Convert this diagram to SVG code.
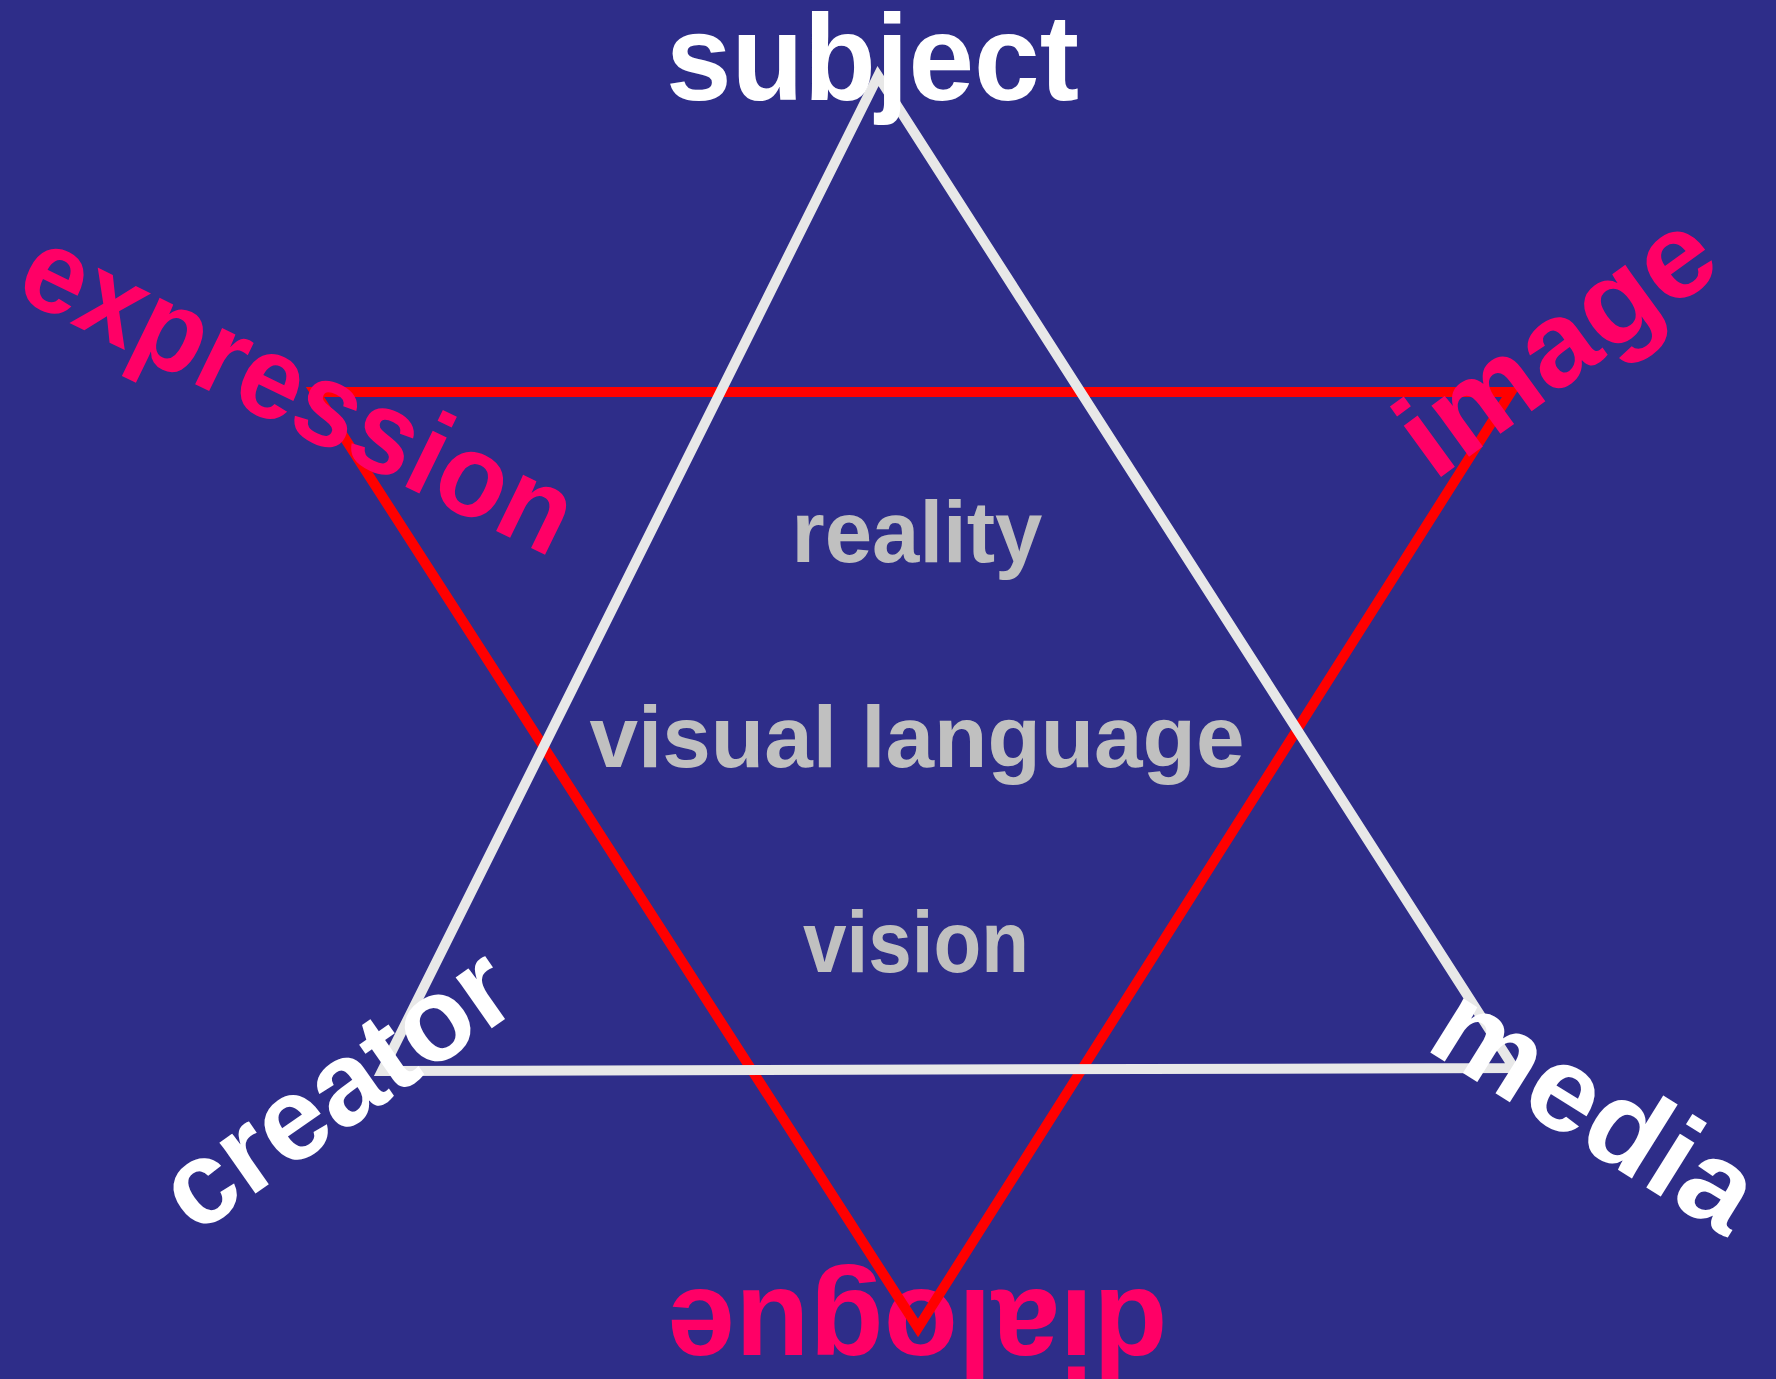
<svg xmlns="http://www.w3.org/2000/svg" width="1776" height="1379" viewBox="0 0 1776 1379">
<style>
.lbl{font-family:"Liberation Sans",Arial,sans-serif;font-weight:bold}
.w{fill:#FFFFFF}
.p{fill:#FF0066}
.g{fill:#C0C0C0}
.tri{fill:none;stroke-linejoin:miter;stroke-miterlimit:10}
</style>
<rect x="0" y="0" width="1776" height="1379" fill="#2E2D89"/>
<g id="dialogue"><text class="lbl p" font-size="122" text-anchor="middle" textLength="500" lengthAdjust="spacingAndGlyphs" transform="translate(917.5,1290) rotate(180)">dialogue</text></g>
<g id="connectors">
<polygon id="red-triangle" class="tri" points="315,392 1511,392 918,1328" stroke="#FF0000" stroke-width="10"/>
<polygon id="white-triangle" class="tri" points="878,76 1514,1068 382,1071" stroke="#E8E8E8" stroke-width="10"/>
</g>
<g id="subject"><text class="lbl w" x="872.5" y="100" font-size="122" text-anchor="middle" textLength="413" lengthAdjust="spacingAndGlyphs">subject</text></g>
<g id="expression"><text class="lbl p" font-size="118" textLength="600" lengthAdjust="spacingAndGlyphs" transform="translate(12,295) rotate(26)">expression</text></g>
<g id="image"><text class="lbl p" font-size="120" textLength="360" lengthAdjust="spacingAndGlyphs" transform="translate(1434,482) rotate(-36)">image</text></g>
<g id="creator"><text class="lbl w" font-size="118" textLength="400" lengthAdjust="spacingAndGlyphs" transform="translate(195,1236) rotate(-35)">creator</text></g>
<g id="media"><text class="lbl w" font-size="120" textLength="358" lengthAdjust="spacingAndGlyphs" transform="translate(1423,1048) rotate(32)">media</text></g>
<g id="reality"><text class="lbl g" x="917" y="562" font-size="88" text-anchor="middle" textLength="251" lengthAdjust="spacingAndGlyphs">reality</text></g>
<g id="visual-language"><text class="lbl g" x="917" y="767" font-size="88" text-anchor="middle" textLength="655" lengthAdjust="spacingAndGlyphs">visual language</text></g>
<g id="vision"><text class="lbl g" x="916" y="972" font-size="88" text-anchor="middle" textLength="226" lengthAdjust="spacingAndGlyphs">vision</text></g>
</svg>
